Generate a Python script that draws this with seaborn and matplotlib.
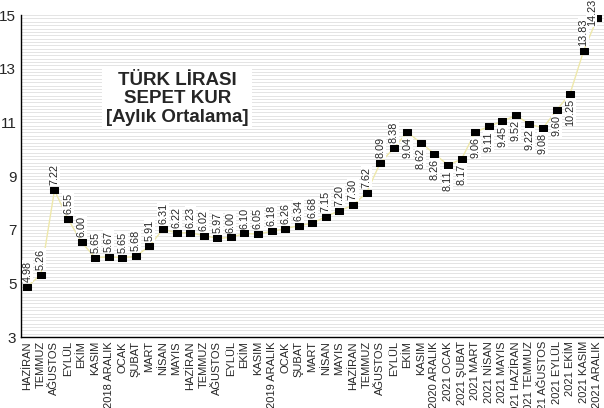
import numpy as np
import pandas as pd
import matplotlib
matplotlib.use("Agg")
import matplotlib.pyplot as plt
import seaborn as sns

months = ["HAZİRAN", "TEMMUZ", "AĞUSTOS", "EYLÜL", "EKİM", "KASIM", "2018 ARALIK",
          "OCAK", "ŞUBAT", "MART", "NİSAN", "MAYIS", "HAZİRAN", "TEMMUZ", "AĞUSTOS",
          "EYLÜL", "EKİM", "KASIM", "2019 ARALIK",
          "OCAK", "ŞUBAT", "MART", "NİSAN", "MAYIS", "HAZİRAN", "TEMMUZ", "AĞUSTOS",
          "EYLÜL", "EKİM", "KASIM", "2020 ARALIK",
          "2021 OCAK", "2021 ŞUBAT", "2021 MART", "2021 NİSAN", "2021 MAYIS",
          "2021 HAZİRAN", "2021 TEMMUZ", "2021 AĞUSTOS", "2021 EYLÜL", "2021 EKİM",
          "2021 KASIM", "2021 ARALIK"]

# marker heights as drawn in the original
plotted = [4.88, 5.33, 8.47, 7.40, 6.53, 5.96, 5.99, 5.96, 6.01, 6.39, 7.02, 6.88,
           6.89, 6.78, 6.68, 6.71, 6.86, 6.84, 6.94, 7.04, 7.15, 7.24, 7.49, 7.71,
           7.91, 8.38, 9.48, 10.04, 10.63, 10.24, 9.83, 9.41, 9.63, 10.63, 10.85,
           11.04, 11.26, 10.94, 10.79, 11.45, 12.07, 13.67, 14.88]

# value labels as printed
labels = ["4.98", "5.26", "7.22", "6.55", "6.00", "5.65", "5.67", "5.65", "5.68",
          "5.91", "6.31", "6.22", "6.23", "6.02", "5.97", "6.00", "6.10", "6.05",
          "6.18", "6.26", "6.34", "6.68", "7.15", "7.20", "7.30", "7.62", "8.09",
          "8.38", "9.04", "8.62", "8.26", "8.11", "8.17", "9.06", "9.11", "9.45",
          "9.52", "9.22", "9.08", "9.60", "10.25", "13.83", "14.23"]

# labels drawn below the marker
below = set(range(28, 41))

df = pd.DataFrame({"idx": np.arange(len(months)), "value": plotted})

sns.set_style("white")
plt.rcParams["font.family"] = ["Liberation Sans Narrow", "Liberation Sans", "DejaVu Sans"]

fig = plt.figure(figsize=(6.04, 4.08), dpi=100)
ax = fig.add_axes([0.034, 0.174, 0.966, 0.789])

rect = [(-1, -0.7), (1, -0.7), (1, 0.7), (-1, 0.7), (-1, -0.7)]
sns.lineplot(data=df, x="idx", y="value", ax=ax, sort=False, color="#eee8aa",
             linewidth=1.0, marker=rect, markersize=5.5, markerfacecolor="black",
             markeredgecolor="black", zorder=3)

box = dict(boxstyle="square,pad=0.05", fc="white", ec="none")
last = len(plotted) - 1
for i, (v, t) in enumerate(zip(plotted, labels)):
    if i == last:
        ax.annotate(t, (i, v), xytext=(-4, 4), textcoords="offset points",
                    rotation=90, ha="center", va="center", fontsize=7.8,
                    annotation_clip=False, zorder=4, bbox=box)
    elif i in below:
        ax.annotate(t, (i, v), xytext=(0, -3.5), textcoords="offset points",
                    rotation=90, ha="center", va="top", fontsize=7.8,
                    annotation_clip=False, zorder=4, bbox=box)
    else:
        ax.annotate(t, (i, v), xytext=(0, 3.5), textcoords="offset points",
                    rotation=90, ha="center", va="bottom", fontsize=7.8,
                    annotation_clip=False, zorder=4, bbox=box)

ax.set_xlim(-0.5, len(months) - 0.5)
ax.set_ylim(3, 15)
ax.set_yticks([3, 5, 7, 9, 11, 13, 15])
ax.set_yticks(np.arange(3, 15.01, 0.125), minor=True)
ax.grid(True, which="both", axis="y", color="#e4e4e4", linewidth=0.7, zorder=0)
ax.set_axisbelow(True)

ax.set_xticks(np.arange(len(months)))
ax.set_xticklabels(months, rotation=90, fontsize=8)
ax.set_xticks(np.arange(len(months)) + 0.5, minor=True)
ax.tick_params(axis="x", which="major", length=0, pad=3)
ax.tick_params(axis="x", which="minor", direction="in", length=4, width=0.8, color="black")
ax.tick_params(axis="y", which="major", direction="in", length=9, width=1.2,
               color="#555555", labelsize=11, pad=3)
ax.tick_params(axis="y", which="minor", length=0)

for s in ["top", "right"]:
    ax.spines[s].set_visible(False)
for s in ["left", "bottom"]:
    ax.spines[s].set_color("black")
    ax.spines[s].set_linewidth(1.0)

ax.set_xlabel("")
ax.set_ylabel("")

ax.text(0.269, 0.74, "TÜRK LİRASI\nSEPET KUR\n[Aylık Ortalama]", transform=ax.transAxes,
        ha="center", va="center", fontsize=13.5, fontweight="bold", linespacing=1.1,
        family=["Liberation Sans", "DejaVu Sans"], zorder=5,
        bbox=dict(boxstyle="square,pad=0.2", fc="white", ec="none"))

fig.savefig("out.png", dpi=100)
